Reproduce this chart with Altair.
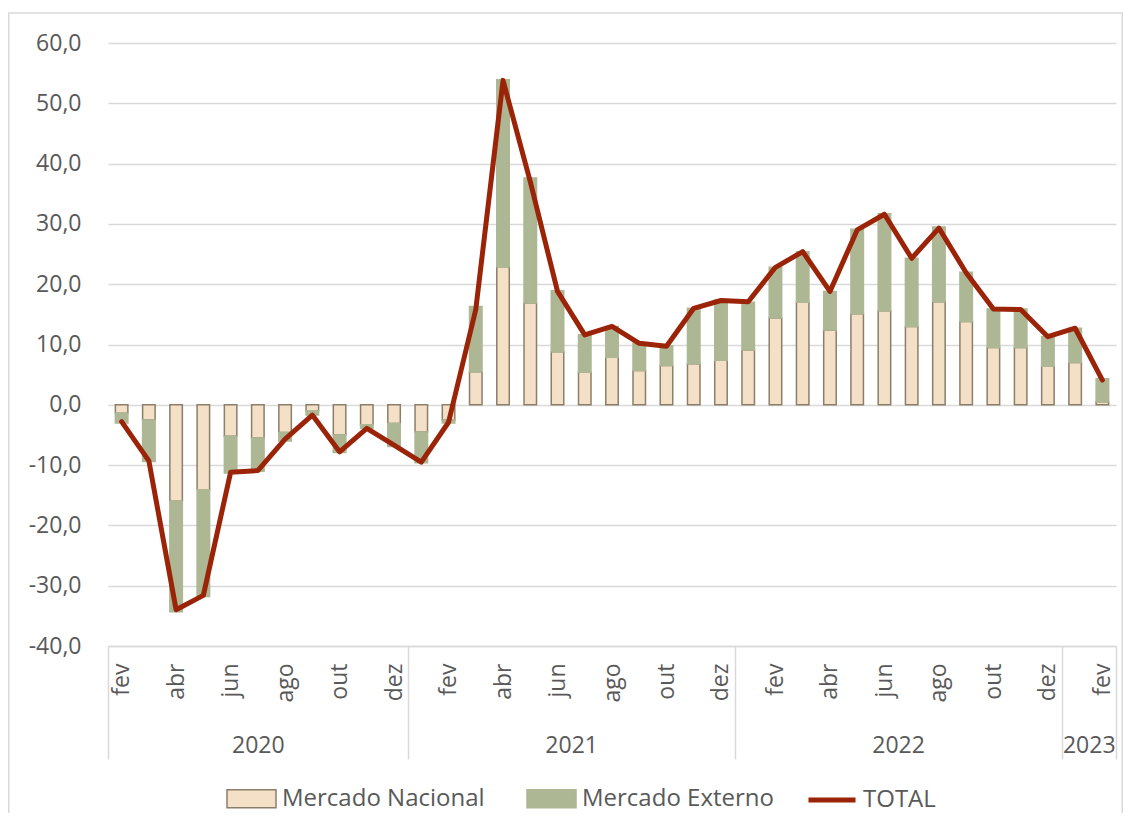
import altair as alt
import pandas as pd

meses = ["fev", "mar", "abr", "mai", "jun", "jul", "ago", "set", "out", "nov", "dez",
         "jan", "fev", "mar", "abr", "mai", "jun", "jul", "ago", "set", "out", "nov", "dez",
         "jan", "fev", "mar", "abr", "mai", "jun", "jul", "ago", "set", "out", "nov", "dez",
         "jan", "fev"]
anos = ["2020"] * 11 + ["2021"] * 12 + ["2022"] * 12 + ["2023"] * 2

nacional = [-1.4, -2.5, -16.0, -14.1, -5.2, -5.5, -4.6, -1.0, -5.0, -3.3, -3.1,
            -4.5, -2.5, 5.5, 22.9, 16.9, 8.8, 5.4, 7.9, 5.7, 6.5, 6.8, 7.4,
            9.1, 14.4, 17.0, 12.4, 15.1, 15.6, 13.0, 17.1, 13.8, 9.5, 9.5, 6.4,
            7.0, 0.5]
externo = [-1.6, -6.9, -18.3, -17.7, -6.1, -5.5, -1.4, -0.7, -2.9, -0.6, -3.8,
           -5.1, -0.5, 10.8, 31.0, 20.7, 10.1, 6.2, 5.1, 4.5, 3.3, 9.2, 10.0,
           7.9, 8.4, 8.4, 6.4, 14.0, 16.1, 11.3, 12.4, 8.2, 6.4, 6.4, 4.9,
           5.7, 3.8]
total = [-2.8, -9.3, -34.0, -31.6, -11.2, -10.9, -5.7, -1.7, -7.8, -3.9, -6.7,
         -9.5, -2.9, 15.8, 53.8, 37.0, 18.8, 11.6, 13.0, 10.2, 9.7, 16.0, 17.3,
         17.1, 22.8, 25.4, 18.8, 29.0, 31.6, 24.3, 29.3, 21.9, 15.9, 15.8, 11.3,
         12.7, 4.1]

series = ["Mercado Nacional", "Mercado Externo"]

FONT = "Open Sans"
TXT = "#595959"
GRID = "#d9d9d9"
BEIGE = "#f3e0c6"
BROWN = "#8c7f6a"
GREEN = "#adb794"
RED = "#9b2308"

n = len(meses)
rows = []
for i in range(n):
    rows.append({"idx": i, "serie": series[0], "valor": nacional[i], "ordem": 0})
    rows.append({"idx": i, "serie": series[1], "valor": externo[i], "ordem": 1})
df_bars = pd.DataFrame(rows)
df_tot = pd.DataFrame({"idx": list(range(n)), "total": total, "serie": ["TOTAL"] * n})

# year groups derived from the data
year_list = []
for a in anos:
    if a not in year_list:
        year_list.append(a)
starts = [anos.index(a) for a in year_list]
ends = [len(anos) - 1 - anos[::-1].index(a) for a in year_list]
boundaries = [s - 0.5 for s in starts] + [ends[-1] + 0.5]
centers = [(s + e) / 2 for s, e in zip(starts, ends)]

month_expr = "[" + ",".join("'%s'" % m for m in meses) + "][datum.value]"
year_expr = ""
for c, a in zip(centers[:-1], year_list[:-1]):
    year_expr += "datum.value < %s ? '%s' : " % (c + 0.5, a)
year_expr += "'%s'" % year_list[-1]

xscale = alt.Scale(domain=[-0.5, n - 0.5], nice=False, zero=False, padding=0)
yscale = alt.Scale(domain=[-40, 60], nice=False)


def y_axis():
    return alt.Axis(values=list(range(-40, 61, 10)),
                    labelExpr="(datum.value < 0 ? '-' : '') + replace(format(abs(datum.value), '.1f'), '.', ',')",
                    ticks=False, tickSize=0, labelPadding=27, domain=False,
                    grid=True, gridColor=GRID, gridWidth=1.5,
                    labelFont=FONT, labelFontSize=23, labelColor=TXT)


def bar_legend():
    return alt.Legend(
        title=None, orient="none", legendX=118, legendY=730, direction="horizontal",
        symbolType="M-1,-0.37H1V0.37H-1Z", symbolSize=2401, symbolStrokeWidth=1.5,
        labelFont=FONT, labelFontSize=24, labelColor=TXT, labelOffset=5,
        columnPadding=39, labelLimit=400,
    )


bars = alt.Chart(df_bars).mark_bar(width=12.5, strokeWidth=1.5).encode(
    x=alt.X("idx:Q", scale=xscale, title=None,
            axis=alt.Axis(orient="bottom", values=list(range(0, n, 2)), labelExpr=month_expr,
                          labelAngle=-90, labelPadding=17, ticks=False, tickSize=0,
                          grid=False, domain=True, domainColor=GRID, domainWidth=1.5,
                          labelFont=FONT, labelFontSize=23, labelColor=TXT,
                          labelOverlap=False, labelFlush=False)),
    y=alt.Y("valor:Q", stack="zero", scale=yscale, title=None, axis=y_axis()),
    fill=alt.Fill("serie:N", scale=alt.Scale(domain=series, range=[BEIGE, GREEN]), legend=bar_legend()),
    stroke=alt.Stroke("serie:N", scale=alt.Scale(domain=series, range=[BROWN, GREEN]), legend=bar_legend()),
    order=alt.Order("ordem:Q"),
)

line = alt.Chart(df_tot).mark_line(strokeWidth=5, strokeJoin="round", strokeCap="round").encode(
    x=alt.X("idx:Q", scale=xscale, title=None,
            axis=alt.Axis(orient="bottom", values=centers, labelExpr=year_expr,
                          labelAngle=0, labelPadding=88, ticks=False, tickSize=0,
                          grid=False, domain=False,
                          labelFont=FONT, labelFontSize=23, labelColor=TXT,
                          labelOverlap=False, labelFlush=False)),
    y=alt.Y("total:Q", scale=yscale, title=None, axis=y_axis()),
    color=alt.Color("serie:N", scale=alt.Scale(domain=["TOTAL"], range=[RED]),
                    legend=alt.Legend(title=None, orient="none", legendX=698, legendY=731,
                                      symbolType="stroke", symbolSize=2209, symbolStrokeWidth=5,
                                      labelFont=FONT, labelFontSize=24, labelColor=TXT,
                                      labelOffset=5)),
)

seps = alt.Chart(df_tot).mark_rule(opacity=0).encode(
    x=alt.X("idx:Q", scale=xscale, title=None,
            axis=alt.Axis(orient="bottom", values=boundaries, labels=False, ticks=True,
                          tickSize=113, tickColor=GRID, tickWidth=1.5,
                          grid=False, domain=False)),
)

frame = alt.Chart(alt.Data(values=[{"f": 1}])).mark_rect(
    fill="transparent", stroke=GRID, strokeWidth=1.5
).encode(
    x=alt.value(-99.25), x2=alt.value(1014.25), y=alt.value(-30), y2=alt.value(900)
)

chart = alt.layer(frame, bars, line, seps).resolve_axis(
    x="independent"
).properties(
    width=1008, height=603,
    autosize=alt.AutoSizeParams(type="none"),
    padding={"left": 100, "top": 35, "right": 7, "bottom": 167},
    background="white",
).configure_view(strokeOpacity=0, stroke="transparent")

chart.save("out.html", embed_options={"renderer": "svg", "actions": False})
